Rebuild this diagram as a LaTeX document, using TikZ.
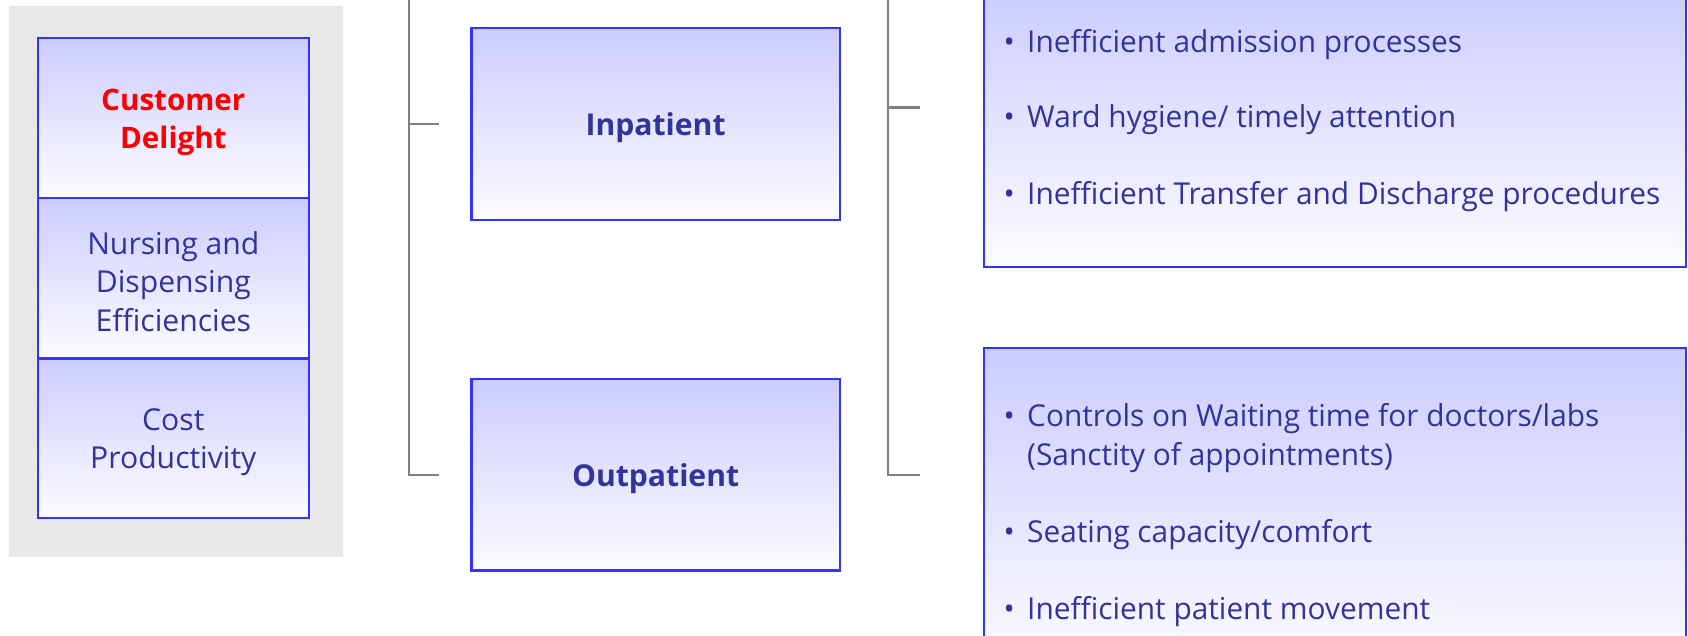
\documentclass[tikz,border=0pt]{standalone}
\usepackage{fontspec}
\setmainfont{Open Sans}
\newfontfamily\bfont{Open Sans}[FakeStretch=0.99]
\definecolor{txt}{RGB}{51,51,153}
\definecolor{bord}{RGB}{51,51,255}
\definecolor{gtop}{RGB}{204,204,255}
\definecolor{gbot}{RGB}{252,252,255}
\definecolor{bgray}{RGB}{232,232,232}
\definecolor{lgray}{RGB}{128,128,128}
\tikzset{
  box/.style={draw=bord, line width=2pt, top color=gtop, bottom color=gbot, inner sep=0pt, text=txt},
  stack/.style={box, minimum width=252pt, minimum height=149pt},
  stacktext/.style={inner sep=0pt, text=txt, align=center, font=\fontsize{28}{35.5}\selectfont},
  redtext/.style={inner sep=0pt, text=red, align=center, font=\bfseries\fontsize{27.5}{35}\selectfont},
  mid/.style={box, minimum width=342pt, minimum height=178pt},
  midtext/.style={inner sep=0pt, text=txt, font=\bfseries\fontsize{28}{32}\selectfont},
  list/.style={box, minimum width=652pt},
  bul/.style={anchor=west, inner sep=0pt, text=txt, font=\bfont\fontsize{28}{36}\selectfont, align=left},
  bracket/.style={draw=lgray, line width=2.2pt},
}
\newcommand{\bitem}{\makebox[22pt][l]{\textbullet}}
\begin{document}
\begin{tikzpicture}[x=1pt,y=-1pt]
\useasboundingbox (0,0) rectangle (1568,590);
\clip (0,0) rectangle (1568,590);
% gray background panel
\fill[bgray] (8,6) rectangle (319,517);
% left stack
\node[stack] (cd) at (161,109.5) {};
\node[stack] (nd) at (161,258.5) {};
\node[stack, minimum height=148pt] (cp) at (161,407) {};
\node[redtext, yshift=-4pt] (cdt) at (cd.center) {Customer\\Delight};
\node[stacktext, yshift=-3pt] (ndt) at (nd.center) {Nursing and\\Dispensing\\Efficiencies};
\node[stacktext, yshift=-3.5pt] (cpt) at (cp.center) {Cost\\Productivity};
% middle boxes
\node[mid] (in) at (609,115) {};
\node[mid] (out) at (609,441) {};
\node[midtext, yshift=-3.5pt] (int) at (in.center) {Inpatient};
\node[midtext, yshift=-3.5pt] (outt) at (out.center) {Outpatient};
% right boxes
\node[list, minimum height=260pt] (rt) at (1240,118) {};
\node[list, minimum height=300pt] (rb) at (1240,473) {};
% brackets
\coordinate (b1top) at (380,0);
\coordinate (b1bot) at (380,441);
\coordinate (b1a) at (408,115);
\coordinate (b1b) at (408,441);
\draw[bracket] (b1top) -- (b1bot) -- (b1b);
\draw[bracket] (b1a -| b1top) -- (b1a);
\coordinate (b2top) at (825,0);
\coordinate (b2bot) at (825,441);
\coordinate (b2a) at (855,100);
\coordinate (b2b) at (855,441);
\draw[bracket] (b2top) -- (b2bot) -- (b2b);
\draw[bracket] (b2a -| b2top) -- (b2a);
% bullets top
\node[bul] (t1) at (932,41) {\bitem Inefficient admission processes};
\node[bul] (t2) at (932,111) {\bitem Ward hygiene/ timely attention};
\node[bul] (t3) at (932,183) {\bitem Inefficient Transfer and Discharge procedures};
% bullets bottom
\node[bul] (u1) at (932,407) {\bitem Controls on Waiting time for doctors/labs\\\hspace*{22pt}(Sanctity of appointments)};
\node[bul] (u2) at (932,497) {\bitem Seating capacity/comfort};
\node[bul] (u3) at (932,568) {\bitem Inefficient patient movement};
\end{tikzpicture}
\end{document}
